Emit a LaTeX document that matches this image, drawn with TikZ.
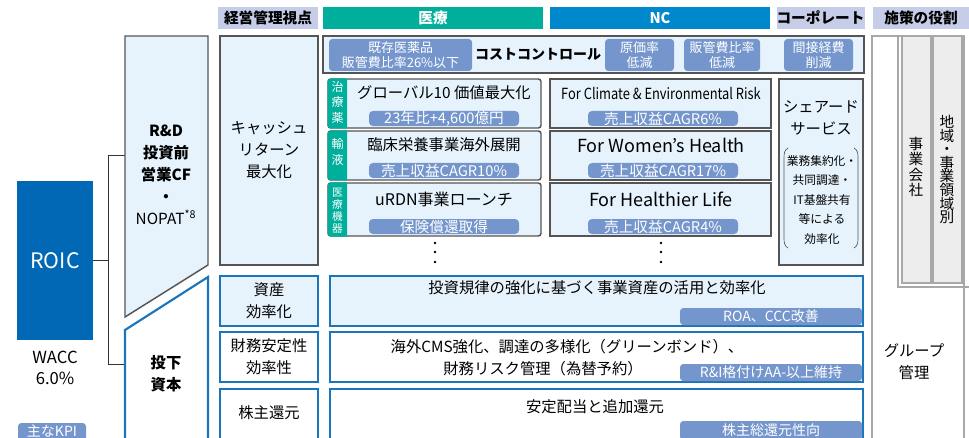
\documentclass[tikz,border=0pt]{standalone}
\usepackage{fontspec}
\setmainfont{Noto Sans CJK JP}
\usepackage{graphicx}
\definecolor{teal1}{HTML}{00AF9B}
\definecolor{ncblue}{HTML}{0088CC}
\definecolor{lav}{HTML}{C6CDE8}
\definecolor{roicb}{HTML}{0068B5}
\definecolor{lb}{HTML}{E6F3FC}
\definecolor{tagc}{HTML}{7596CC}
\definecolor{bstroke}{HTML}{1B75BB}
\definecolor{gstroke}{HTML}{555555}
\definecolor{rgray}{HTML}{A8A8A8}
\definecolor{ifill}{HTML}{EDEDED}
\newcommand\tightls{\lineskiplimit=-20pt\relax}
\newcommand\mybox[7][]{\node[inner sep=0pt,outer sep=0pt,align=center,minimum width={(#5-#3)*0.75pt},minimum height={(#6-#4)*0.75pt},#1] (#2) at ({(#3+#5)/2},{(#4+#6)/2}) {#7};}
\tikzset{
 hdr/.style={font=\fontsize{11}{13}\selectfont\bfseries, fill=lav},
 gbox/.style={draw=gstroke, line width=1.1pt, fill=lb},
 mbox/.style={draw=gstroke, line width=1.1pt, fill=lb, rounded corners=2pt},
 bbox/.style={draw=bstroke, line width=1.6pt},
 tagbox/.style={fill=tagc, text=white, rounded corners=2.5pt, font=\fontsize{10.5}{12}\selectfont},
 ctag/.style={fill=tagc, text=white, rounded corners=2.5pt, font=\fontsize{9.75}{11.5}\selectfont},
 stag/.style={fill=tagc, text=white, rounded corners=3pt, font=\fontsize{11}{11}\selectfont},
 txt/.style={inner sep=0pt, align=center},
 vtag/.style={inner sep=0pt, align=center, text=white},
 conn/.style={draw=black!80, line width=0.6pt},
 dotm/.style={fill=black, draw=none},
}
\begin{document}
\begin{tikzpicture}[x=0.75pt,y=-0.75pt,font=\fontsize{11.5}{16.5}\selectfont]
\useasboundingbox (0,0) rectangle (969,438);
\clip (0,0) rectangle (969,438);
% headers
\mybox[hdr]{h1}{218}{7}{318}{29}{経営管理視点}
\mybox[hdr,fill=teal1,text=white]{h2}{323}{7}{543}{29}{医療}
\mybox[hdr,fill=ncblue,text=white]{h3}{550}{7}{770}{29}{NC}
\mybox[hdr]{h4}{777}{7}{864}{29}{コーポレート}
\mybox[hdr]{h5}{873}{7}{969}{29}{施策の役割}
% ROIC
\mybox[fill=roicb,text=white,font=\fontsize{16}{18}\selectfont]{roic}{17}{181}{93}{340}{ROIC}
\node[txt,font=\fontsize{12.5}{15.8}\selectfont] (wacc) at (55,368) {WACC\\6.0\%};
\mybox[fill=tagc,rounded corners=2.5pt]{kpi}{18}{423}{86}{447}{}
\node[txt,text=white,font=\fontsize{10.5}{11}\selectfont] (kpit) at (52,431) {主なKPI};
% connectors
\coordinate (rdL) at (125,155);
\coordinate (ikL) at (125,364);
\coordinate (j1) at (108,155);
\coordinate (j2) at (108,364);
\draw[conn] (rdL) -- (j1) -- (j2) -- (ikL);
\draw[conn] (roic.east) -- (roic.east -| j1);
% R&D shape
\draw[fill=lb,draw=gstroke,line width=1.1pt] (125,36) -- (208,36) -- (208,265) -- (125,317) -- cycle;
\node[txt,font=\fontsize{11.5}{16.5}\selectfont\bfseries] (rdt) at (166,175) {R\&D\\投資前\\営業CF\\・\\{\mdseries NOPAT\textsuperscript{*8}}};
% invested capital shape
\draw[fill=white,draw=bstroke,line width=1.6pt] (125,460) -- (125,330) -- (208,277) -- (208,460);
\node[txt,font=\fontsize{11.5}{16.5}\selectfont\bfseries] (ikt) at (166,374) {投下\\資本};
% viewpoint column
\mybox[gbox]{cash}{220}{36}{318}{265}{キャッシュ\\リターン\\最大化}
\mybox[bbox,fill=lb]{asset}{220}{276}{318}{326}{資産\\効率化}
\mybox[bbox,fill=white]{fin}{220}{332}{318}{382}{財務安定性\\効率性}
\mybox[bbox,fill=white]{shr}{220}{389}{318}{470}{}
\node[txt] (shrt) at (269,413) {株主還元};
% wide boxes
\mybox[bbox,fill=lb]{w1}{330}{276}{863}{326}{}
\node[txt] (w1t) at (597,288) {投資規律の強化に基づく事業資産の活用と効率化};
\mybox[tagbox]{w1g}{680}{308}{862}{325}{ROA、CCC改善}
\mybox[bbox,fill=white]{w2}{330}{332}{863}{382}{}
\node[txt] (w2t) at (567,347) {海外CMS強化、調達の多様化（グリーンボンド）、};
\node[txt] (w2u) at (543,369) {財務リスク管理（為替予約）};
\mybox[tagbox]{w2g}{680}{364}{862}{381}{R\&I格付けAA-以上維持}
\mybox[bbox,fill=white]{w3}{330}{389}{863}{470}{}
\node[txt] (w3t) at (595,407) {安定配当と追加還元};
\mybox[tagbox]{w3g}{680}{421}{862}{440}{株主総還元性向}
% cost control
\mybox[gbox,line width=1.4pt]{cc}{323}{36}{864}{73}{}
\mybox[ctag]{c1}{329}{39}{472}{71}{既存医薬品\\販管費比率26\%以下}
\node[txt,font=\fontsize{10.5}{12}\selectfont\bfseries] (cct) at (538,54) {コストコントロール};
\mybox[ctag]{c2}{605}{39}{674}{71}{原価率\\低減}
\mybox[ctag]{c3}{684}{39}{760}{71}{販管費比率\\低減}
\mybox[ctag]{c4}{784}{39}{853}{71}{間接経費\\削減}
% medical boxes
\mybox[mbox]{m1}{328}{79}{541}{128}{}
\mybox[mbox]{m2}{328}{131}{541}{180}{}
\mybox[mbox]{m3}{328}{183}{541}{236}{}
\begin{scope}
\clip (326,77) rectangle (347,240);
\fill[teal1,rounded corners=2.5pt] (327.5,78.5) rectangle (360,128.5);
\fill[teal1,rounded corners=2.5pt] (327.5,130.5) rectangle (360,180.5);
\fill[teal1,rounded corners=2.5pt] (327.5,182.5) rectangle (360,236.5);
\end{scope}
\node[vtag,font=\fontsize{9}{11.6}\selectfont] (v1) at (337.5,102) {治\\療\\薬};
\node[vtag,font=\fontsize{9}{12.5}\selectfont] (v2) at (337.5,152) {輸\\液};
\node[vtag,font=\fontsize{8}{9}\selectfont] (v3) at (337.5,211) {医\\療\\機\\器};
\node[txt] (m1t) at (444,93) {グローバル10 価値最大化};
\mybox[stag]{m1g}{369}{111}{519}{126}{23年比+4,600億円}
\node[txt] (m2t) at (444,145) {臨床栄養事業海外展開};
\mybox[stag]{m2g}{369}{163}{519}{178}{売上収益CAGR10\%}
\node[txt,font=\fontsize{12}{16.5}\selectfont] (m3t) at (444,199) {uRDN事業ローンチ};
\mybox[stag]{m3g}{369}{219}{519}{234}{保険償還取得}
\foreach \yy in {243,252,262} {\fill[dotm] (435,\yy) circle (1.4);}
% NC boxes
\mybox[gbox]{n1}{550}{79}{771}{128}{}
\node[txt] (n1t) at (661,93) {\scalebox{0.84}[1]{For Climate \& Environmental Risk}};
\mybox[stag]{n1g}{588}{111}{738}{126}{売上収益CAGR6\%}
\mybox[gbox]{n2}{550}{131}{771}{180}{}
\node[txt,font=\fontsize{13.5}{16.5}\selectfont] (n2t) at (661,145) {For Women’s Health};
\mybox[stag]{n2g}{588}{163}{738}{178}{売上収益CAGR17\%}
\mybox[gbox]{n3}{550}{183}{771}{236}{}
\node[txt,font=\fontsize{13.5}{16.5}\selectfont] (n3t) at (661,199) {For Healthier Life};
\mybox[stag]{n3g}{588}{219}{738}{234}{売上収益CAGR4\%}
\foreach \yy in {243,252,262} {\fill[dotm] (661,\yy) circle (1.4);}
% corporate
\mybox[gbox]{ss}{779}{79}{863}{265}{}
\node[txt] (sst) at (821,117.5) {シェアード\\サービス};
\node[txt,font=\fontsize{8.8}{14.6}\selectfont] (ssd) at (822,200) {業務集約化・\\共同調達・\\IT基盤共有\\等による\\効率化};
\draw[draw=gstroke,line width=0.5pt] (788,148) .. controls (784.5,150) and (784,153) .. (784,158) -- (784,238) .. controls (784,243) and (784.5,246) .. (788,248);
\draw[draw=gstroke,line width=0.5pt] (854,148) .. controls (857.5,150) and (858,153) .. (858,158) -- (858,238) .. controls (858,243) and (857.5,246) .. (854,248);
% right column
\mybox[draw=rgray,line width=0.8pt,fill=white]{grp}{872}{36}{964}{470}{}
\draw[draw=rgray,line width=0.8pt] (898,36) -- (898,287) -- (969,287);
\mybox[draw=rgray,line width=0.8pt,fill=ifill]{jg}{902}{36}{931}{283}{}
\mybox[draw=rgray,line width=0.8pt,fill=ifill]{rg}{933}{36}{962}{283}{}
\node[txt,font=\fontsize{11}{11.4}\selectfont] (jgt) at (916,167) {事\\業\\会\\社};
\node[txt,font=\fontsize{11}{10.2}\selectfont\tightls] (rgt) at (947,169.5) {地\\域\\・\\事\\業\\領\\域\\別};
\node[txt] (grpt) at (914,362) {グループ\\管理};
\end{tikzpicture}
\end{document}
